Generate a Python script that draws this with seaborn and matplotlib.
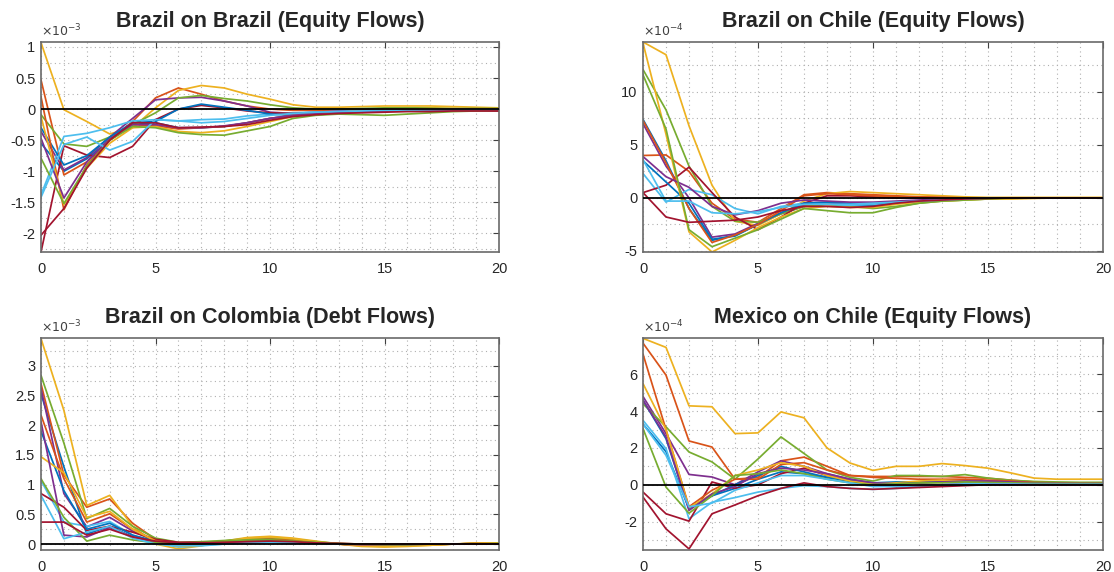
import numpy as np
import pandas as pd
import matplotlib
matplotlib.use("Agg")
import matplotlib.pyplot as plt
from matplotlib.ticker import MultipleLocator, FuncFormatter
import seaborn as sns

horizon = list(range(21))

# MATLAB default colour order (each used twice)
colors = ["#0072BD", "#D95319", "#EDB120", "#7E2F8E", "#77AC30", "#4DBEEE", "#A2142F"] * 2

titles = ["Brazil on Brazil (Equity Flows)", "Brazil on Chile (Equity Flows)",
          "Brazil on Colombia (Debt Flows)", "Mexico on Chile (Equity Flows)"]
exponents = ["-3", "-4", "-3", "-4"]

# ---- Brazil on Brazil (x 1e-3)
bra_bra = [
    [-0.55, -1.0, -0.8, -0.5, -0.25, -0.22, -0.3, -0.3, -0.28, -0.22, -0.15, -0.1, -0.07, -0.05, -0.04, -0.03, -0.02, -0.02, -0.01, -0.01, -0.01],
    [0.47, -1.06, -0.85, -0.5, -0.2, 0.18, 0.34, 0.24, 0.13, 0.05, 0.0, -0.02, -0.02, -0.01, 0, 0, 0.01, 0.01, 0, 0, 0],
    [1.07, -0.01, -0.2, -0.4, -0.3, 0.02, 0.3, 0.38, 0.34, 0.24, 0.16, 0.07, 0.03, 0.03, 0.04, 0.05, 0.05, 0.05, 0.04, 0.03, 0.02],
    [-0.36, -0.98, -0.78, -0.45, -0.15, 0.15, 0.18, 0.19, 0.13, 0.05, -0.05, -0.07, -0.05, -0.03, -0.02, -0.01, 0, 0, 0, 0, 0],
    [-0.09, -0.56, -0.6, -0.45, -0.25, -0.06, 0.18, 0.22, 0.17, 0.13, 0.07, 0.02, 0.0, 0.0, 0.01, 0.02, 0.02, 0.02, 0.01, 0.01, 0.01],
    [-1.38, -0.44, -0.39, -0.3, -0.19, -0.17, -0.19, -0.17, -0.16, -0.11, -0.08, -0.06, -0.05, -0.04, -0.03, -0.02, -0.02, -0.01, -0.01, -0.01, -0.01],
    [-2.3, -0.59, -0.74, -0.78, -0.6, -0.17, 0.0, 0.06, 0.02, -0.03, -0.06, -0.07, -0.06, -0.05, -0.04, -0.03, -0.02, -0.02, -0.02, -0.02, -0.03],
    [-0.3, -0.9, -0.75, -0.45, -0.22, -0.2, 0.0, 0.08, 0.03, -0.02, -0.08, -0.1, -0.08, -0.06, -0.04, -0.03, -0.02, -0.01, -0.01, -0.01, -0.01],
    [0.2, -1.62, -0.9, -0.5, -0.25, -0.27, -0.32, -0.3, -0.28, -0.22, -0.15, -0.1, -0.07, -0.05, -0.04, -0.03, -0.02, -0.02, -0.01, -0.01, -0.01],
    [-0.12, -1.54, -0.95, -0.55, -0.3, -0.28, -0.36, -0.38, -0.35, -0.28, -0.2, -0.12, -0.08, -0.05, -0.03, -0.01, 0, 0.01, 0.01, 0, 0],
    [-0.47, -1.43, -0.85, -0.48, -0.25, -0.25, -0.3, -0.3, -0.27, -0.22, -0.15, -0.1, -0.07, -0.05, -0.04, -0.03, -0.02, -0.02, -0.01, -0.01, -0.01],
    [-0.79, -1.52, -0.92, -0.5, -0.28, -0.3, -0.38, -0.41, -0.42, -0.35, -0.28, -0.15, -0.1, -0.08, -0.09, -0.1, -0.08, -0.06, -0.04, -0.03, -0.02],
    [-1.42, -0.57, -0.45, -0.66, -0.52, -0.17, -0.19, -0.22, -0.2, -0.15, -0.1, -0.07, -0.05, -0.04, -0.03, -0.02, -0.02, -0.01, -0.01, -0.01, -0.01],
    [-2.03, -1.6, -0.95, -0.5, -0.22, -0.22, -0.3, -0.29, -0.28, -0.25, -0.18, -0.12, -0.09, -0.07, -0.06, -0.05, -0.04, -0.04, -0.03, -0.03, -0.03],
]

# ---- Brazil on Chile (x 1e-4)
bra_chl = [
    [7.4, 3.5, -1.0, -4.0, -3.5, -2.5, -1.5, -0.8, -0.6, -0.7, -0.7, -0.5, -0.3, -0.2, -0.1, -0.1, 0, 0, 0, 0, 0],
    [4.0, 4.05, 2.5, -0.5, -2.0, -2.3, -1.0, 0.3, 0.5, 0.4, 0.3, 0.2, 0.1, 0.05, 0, 0, 0, 0, 0, 0, 0],
    [14.7, 13.5, 6.8, 1.2, -2.2, -2.6, -1.5, -0.3, 0.4, 0.6, 0.5, 0.4, 0.3, 0.2, 0.1, 0.05, 0.05, 0.05, 0.05, 0.05, 0.05],
    [7.0, 3.0, 0.0, -3.7, -3.4, -2.4, -1.4, -0.7, -0.5, -0.6, -0.6, -0.4, -0.3, -0.2, -0.1, -0.05, 0, 0, 0, 0, 0],
    [12.1, 8.3, 3.0, -0.8, -2.2, -2.3, -1.5, -0.8, -0.6, -0.8, -1.0, -0.8, -0.5, -0.3, -0.2, -0.1, -0.05, 0, 0, 0, 0],
    [2.3, -0.4, 0.8, 0.3, -1.0, -1.5, -0.8, -0.5, -0.6, -0.7, -0.6, -0.4, -0.3, -0.2, -0.1, 0, 0, 0, 0, 0, 0],
    [0.5, 1.2, 2.9, 0.5, -1.8, -3.0, -1.8, -0.5, 0.2, 0.2, 0.1, 0.0, 0, 0, 0, 0, 0, 0, 0, 0, 0],
    [3.5, 1.5, -0.5, -3.9, -3.6, -2.5, -1.4, -0.5, -0.4, -0.5, -0.5, -0.4, -0.3, -0.2, -0.1, 0, 0, 0, 0, 0, 0],
    [7.3, 3.3, -1.0, -4.2, -3.5, -2.5, -1.2, 0.2, 0.4, 0.3, 0.2, 0.1, 0.1, 0.05, 0, 0, 0, 0, 0, 0, 0],
    [14.6, 6.0, -3.2, -5.1, -4.0, -2.8, -1.8, -1.0, -0.8, -0.9, -0.9, -0.6, -0.4, -0.3, -0.2, -0.1, -0.1, -0.05, 0, 0, 0],
    [3.9, 2.0, 1.0, -0.8, -1.6, -1.2, -0.5, -0.2, -0.3, -0.4, -0.4, -0.3, -0.2, -0.1, -0.05, 0, 0, 0, 0, 0, 0],
    [11.6, 6.5, -3.0, -4.6, -3.8, -3.0, -2.0, -1.0, -1.2, -1.4, -1.4, -0.9, -0.5, -0.3, -0.2, -0.1, 0, 0, 0, 0, 0],
    [3.6, -0.3, -0.3, -1.4, -1.5, -1.3, -0.9, -0.6, -0.6, -0.6, -0.5, -0.4, -0.3, -0.2, -0.1, 0, 0, 0, 0, 0, 0],
    [0.5, -1.8, -2.3, -2.2, -2.1, -1.8, -1.2, -0.8, -0.8, -0.9, -0.8, -0.5, -0.3, -0.2, -0.1, -0.05, 0, 0, 0, 0, 0],
]

# ---- Brazil on Colombia (x 1e-3)
bra_col = [
    [2.53, 1.3, 0.17, 0.3, 0.12, 0.03, 0.0, 0.0, 0.02, 0.04, 0.05, 0.04, 0.02, 0.0, -0.01, -0.01, -0.01, 0, 0, 0.01, 0.01],
    [2.7, 1.16, 0.62, 0.76, 0.35, 0.08, -0.02, 0.0, 0.03, 0.07, 0.09, 0.07, 0.03, 0.0, -0.02, -0.03, -0.02, -0.01, 0, 0.01, 0.01],
    [3.46, 2.25, 0.65, 0.82, 0.3, 0.0, -0.08, -0.03, 0.05, 0.11, 0.13, 0.1, 0.05, 0.0, -0.04, -0.05, -0.04, -0.02, 0, 0.02, 0.02],
    [2.62, 0.85, 0.29, 0.45, 0.22, 0.05, -0.01, 0, 0.02, 0.04, 0.05, 0.04, 0.02, 0, -0.01, -0.01, -0.01, 0, 0, 0, 0],
    [2.84, 1.7, 0.43, 0.6, 0.3, 0.1, 0.03, 0.04, 0.06, 0.09, 0.1, 0.08, 0.04, 0.01, -0.01, -0.02, -0.02, -0.01, 0, 0.01, 0.01],
    [1.07, 0.37, 0.3, 0.38, 0.15, 0.02, -0.05, -0.03, 0, 0.02, 0.03, 0.02, 0.01, 0, -0.01, -0.01, 0, 0, 0, 0, 0],
    [0.85, 0.62, 0.23, 0.3, 0.2, 0.08, 0.03, 0.03, 0.04, 0.05, 0.05, 0.04, 0.02, 0.01, 0, 0, 0, 0, 0, 0, 0],
    [1.9, 0.9, 0.25, 0.35, 0.15, 0.05, 0, 0.01, 0.03, 0.05, 0.06, 0.04, 0.02, 0, -0.01, -0.02, -0.01, 0, 0, 0, 0],
    [2.17, 1.1, 0.37, 0.51, 0.25, 0.06, 0.0, 0.01, 0.04, 0.07, 0.08, 0.06, 0.03, 0.0, -0.02, -0.02, -0.02, -0.01, 0, 0.01, 0.01],
    [1.47, 1.2, 0.45, 0.55, 0.25, 0.05, -0.04, -0.02, 0.04, 0.1, 0.12, 0.09, 0.04, 0, -0.03, -0.04, -0.03, -0.02, 0, 0.01, 0.02],
    [2.06, 0.15, 0.12, 0.28, 0.12, 0.03, 0, 0.01, 0.02, 0.04, 0.05, 0.04, 0.02, 0, -0.01, -0.01, -0.01, 0, 0, 0, 0],
    [1.1, 0.45, 0.05, 0.15, 0.07, 0.02, 0.01, 0.03, 0.05, 0.07, 0.07, 0.05, 0.03, 0.01, 0, -0.01, -0.01, 0, 0, 0, 0.01],
    [0.82, 0.09, 0.2, 0.3, 0.1, 0.0, -0.03, -0.02, 0, 0.02, 0.03, 0.02, 0.01, 0, 0, 0, 0, 0, 0, 0, 0],
    [0.37, 0.37, 0.15, 0.25, 0.12, 0.05, 0.02, 0.02, 0.03, 0.04, 0.05, 0.04, 0.02, 0.01, 0, 0, 0, 0, 0, 0, 0],
]

# ---- Mexico on Chile (x 1e-4)
mex_chl = [
    [3.3, 1.8, -1.3, -0.6, -0.2, 0.3, 0.7, 0.6, 0.4, 0.2, 0.1, 0.1, 0.1, 0.15, 0.15, 0.12, 0.1, 0.08, 0.07, 0.07, 0.07],
    [7.7, 5.96, 2.38, 2.05, 0.3, 0.4, 1.3, 1.5, 1.0, 0.5, 0.45, 0.45, 0.45, 0.45, 0.4, 0.35, 0.25, 0.15, 0.1, 0.1, 0.1],
    [7.96, 7.47, 4.29, 4.24, 2.78, 2.82, 3.96, 3.64, 2.0, 1.18, 0.78, 1.0, 1.0, 1.15, 1.04, 0.9, 0.64, 0.36, 0.3, 0.3, 0.3],
    [4.8, 2.78, 0.56, 0.42, 0.0, 0.7, 1.3, 1.0, 0.6, 0.3, 0.1, 0.05, 0.1, 0.2, 0.2, 0.15, 0.1, 0.07, 0.05, 0.05, 0.05],
    [4.4, 3.15, 1.78, 1.24, 0.3, 1.4, 2.6, 1.7, 0.8, 0.4, 0.2, 0.5, 0.5, 0.45, 0.55, 0.36, 0.24, 0.18, 0.15, 0.13, 0.13],
    [3.5, 1.96, -1.85, -0.95, -0.7, -0.4, -0.2, -0.05, -0.1, -0.2, -0.25, -0.2, -0.1, 0.0, 0.05, 0.05, 0.05, 0.05, 0.03, 0.03, 0.03],
    [-0.4, -1.58, -1.98, 0.15, -0.2, 0.0, 0.6, 0.9, 0.5, 0.2, 0.0, -0.1, -0.05, 0.0, 0.05, 0.05, 0.05, 0.03, 0.02, 0.02, 0.02],
    [4.6, 2.5, -1.3, -0.6, 0.0, 0.5, 1.0, 0.7, 0.4, 0.2, 0.1, 0.15, 0.15, 0.2, 0.2, 0.15, 0.1, 0.07, 0.05, 0.05, 0.05],
    [7.1, 3.0, -1.2, -0.3, 0.3, 0.3, 1.1, 1.2, 0.8, 0.5, 0.4, 0.35, 0.3, 0.3, 0.3, 0.25, 0.2, 0.12, 0.1, 0.08, 0.08],
    [5.5, 3.0, -1.25, -0.5, 0.5, 0.8, 1.2, 1.0, 0.5, 0.2, 0.05, 0.1, 0.2, 0.25, 0.2, 0.15, 0.1, 0.08, 0.06, 0.06, 0.06],
    [4.6, 2.6, -1.4, -0.5, -0.1, 0.6, 0.9, 0.8, 0.6, 0.3, 0.1, 0.05, 0.1, 0.15, 0.2, 0.2, 0.15, 0.1, 0.08, 0.07, 0.07],
    [3.05, -0.13, -1.55, -0.6, 0.5, 0.6, 0.8, 0.6, 0.3, 0.1, 0.0, 0.05, 0.1, 0.1, 0.15, 0.12, 0.1, 0.08, 0.07, 0.07, 0.07],
    [3.3, 1.6, -1.2, -1.0, -0.3, 0.1, 0.5, 0.5, 0.3, 0.1, -0.1, -0.1, -0.05, 0.0, 0.05, 0.05, 0.05, 0.03, 0.03, 0.03, 0.03],
    [-0.67, -2.4, -3.49, -1.58, -1.1, -0.6, -0.2, 0.1, -0.1, -0.2, -0.25, -0.2, -0.15, -0.1, -0.05, 0.0, 0.0, 0.0, 0.0, 0.0, 0.0],
]

panels = [bra_bra, bra_chl, bra_col, mex_chl]
ylims = [(-2.3, 1.08), (-5.1, 14.7), (-0.1, 3.47), (-3.55, 7.98)]
ymajor = [0.5, 5, 0.5, 2]
yminor = [0.25, 2.5, 0.25, 1]

sns.set_style("white")
plt.rcParams["font.family"] = ["Liberation Sans", "DejaVu Sans"]
plt.rcParams["axes.unicode_minus"] = False

W, H = 1114, 572
fig = plt.figure(figsize=(W / 100, H / 100), dpi=100)
rects = [(41, 42, 499, 252), (643, 42, 1103, 252), (41, 338, 499, 550), (643, 338, 1103, 550)]
fmt = FuncFormatter(lambda v, _: f"{v:g}")

for i, (data, (l, t, r, b)) in enumerate(zip(panels, rects)):
    ax = fig.add_axes([l / W, 1 - b / H, (r - l) / W, (b - t) / H])
    rows = []
    for k, series in enumerate(data):
        for h, v in zip(horizon, series):
            rows.append({"h": h, "v": v, "line": k})
    df = pd.DataFrame(rows)
    sns.lineplot(data=df, x="h", y="v", hue="line", palette=colors[:len(data)],
                 legend=False, ax=ax, linewidth=1.25, estimator=None, sort=False)
    ax.axhline(0, color="black", lw=1.3, zorder=5)
    ax.set_xlim(0, 20)
    ax.set_ylim(*ylims[i])
    ax.xaxis.set_major_locator(MultipleLocator(5))
    ax.xaxis.set_minor_locator(MultipleLocator(1))
    ax.yaxis.set_major_locator(MultipleLocator(ymajor[i]))
    ax.yaxis.set_minor_locator(MultipleLocator(yminor[i]))
    ax.xaxis.set_major_formatter(fmt)
    ax.yaxis.set_major_formatter(fmt)
    ax.grid(True, which="both", linestyle=(0, (1, 3)), color="#b0b0b0", linewidth=0.8)
    ax.set_axisbelow(True)
    ax.tick_params(which="major", direction="in", length=4, width=0.8, color="#404040",
                   top=True, right=True, labelsize=10.5, labelcolor="#262626", pad=4)
    ax.tick_params(axis="x", which="major", pad=7)
    ax.tick_params(which="minor", length=0)
    ax.set_xlabel("")
    ax.set_ylabel("")
    for s in ax.spines.values():
        s.set_color("#6a6a6a")
        s.set_linewidth(1.2)
    ax.set_title(titles[i], fontsize=15.5, fontweight="bold", pad=11)
    ax.text(0, 1.012, r"$\times10^{%s}$" % exponents[i], transform=ax.transAxes,
            ha="left", va="bottom", fontsize=9, color="#404040")

fig.savefig("out.png", dpi=100)
